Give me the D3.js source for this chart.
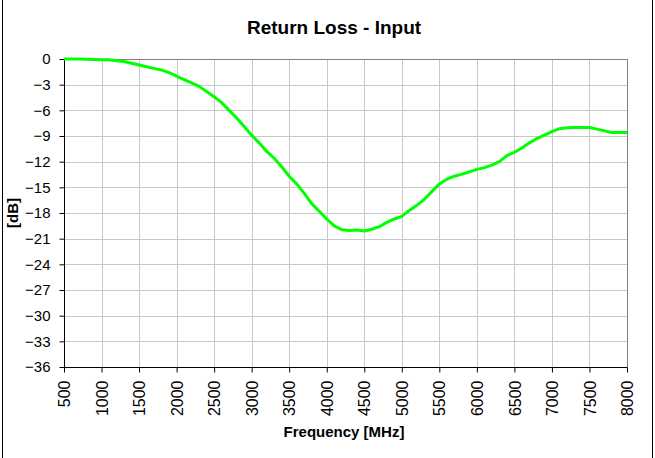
<!DOCTYPE html>
<html><head><meta charset="utf-8">
<script src="https://cdn.jsdelivr.net/npm/d3@7"></script>
<style>body{margin:0;background:#fff}svg{display:block;font-family:Arial,"Liberation Sans",sans-serif}</style>
</head><body><svg id="c" width="655" height="458"></svg>
<script>
const freq = [500,700,900,1000,1100,1200,1300,1400,1500,1600,1700,1800,1900,2000,2100,2200,2300,2400,2500,2600,2700,2800,2900,3000,3100,3200,3300,3400,3500,3600,3700,3800,3900,4000,4100,4200,4300,4400,4500,4600,4700,4800,4900,5000,5100,5200,5300,5400,5500,5600,5700,5800,5900,6000,6100,6200,6300,6400,6500,6600,6700,6800,6900,7000,7100,7200,7300,7400,7500,7600,7700,7800,7900,8000];
const returnLoss = [0,0,-0.05,-0.1,-0.1,-0.2,-0.3,-0.5,-0.7,-0.9,-1.1,-1.3,-1.6,-2.0,-2.4,-2.8,-3.2,-3.8,-4.4,-5.1,-6.0,-6.9,-7.9,-8.9,-9.8,-10.8,-11.6,-12.6,-13.7,-14.6,-15.7,-16.9,-17.8,-18.7,-19.5,-19.95,-20.05,-20.0,-20.1,-19.9,-19.6,-19.1,-18.7,-18.4,-17.7,-17.1,-16.4,-15.5,-14.6,-14.05,-13.7,-13.45,-13.2,-12.9,-12.7,-12.4,-12.0,-11.3,-10.9,-10.4,-9.8,-9.3,-8.9,-8.5,-8.15,-8.05,-8.0,-8.0,-8.0,-8.2,-8.4,-8.6,-8.6,-8.6];
const xTicks = [500,1000,1500,2000,2500,3000,3500,4000,4500,5000,5500,6000,6500,7000,7500,8000];
const yTicks = [0,-3,-6,-9,-12,-15,-18,-21,-24,-27,-30,-33,-36];
const title = "Return Loss - Input";
const xLabel = "Frequency [MHz]";
const yLabel = "[dB]";

const svg = d3.select("#c");
const L = 64, R = 627, T = 59, B = 367;
const x = d3.scaleLinear().domain([500,8000]).range([L,R]);
const y = d3.scaleLinear().domain([-36,0]).range([B,T]);
const FF = "Arial, Liberation Sans, sans-serif";

// outer frame
svg.append("rect").attr("x",2.5).attr("y",-1).attr("width",650).attr("height",461)
  .attr("fill","none").attr("stroke","#000").attr("stroke-width",1);

// grid
svg.append("g").selectAll("line").data(xTicks.slice(1)).join("line")
  .attr("x1",d=>Math.round(x(d))+0.5).attr("x2",d=>Math.round(x(d))+0.5)
  .attr("y1",T).attr("y2",B).attr("stroke","#c8c8c8").attr("stroke-width",1);
svg.append("g").selectAll("line").data(yTicks.slice(0,-1)).join("line")
  .attr("y1",d=>Math.round(y(d))+0.5).attr("y2",d=>Math.round(y(d))+0.5)
  .attr("x1",L).attr("x2",R).attr("stroke","#c8c8c8").attr("stroke-width",1);
// top/right border
svg.append("path").attr("d",`M${L},${T+0.5}H${R+0.5}V${B}`).attr("fill","none").attr("stroke","#808080");

// axes
const gx = svg.append("g").attr("transform",`translate(0,${B+0.5})`)
  .call(d3.axisBottom(x).tickValues(xTicks).tickSize(5).tickFormat(d3.format("d")));
gx.select(".domain").attr("d",`M${L},0H${R+0.5}`).attr("stroke","#000");
gx.selectAll("text").attr("transform","rotate(-90)").attr("text-anchor","end")
  .attr("x",-13).attr("y",0).attr("dy","0.35em").attr("font-size",16).attr("fill","#000").attr("font-family",FF);
const gy = svg.append("g").attr("transform",`translate(${L+0.5},0)`)
  .call(d3.axisLeft(y).tickValues(yTicks).tickSize(5).tickFormat(d3.format("d")));
gy.select(".domain").attr("d",`M0,${T}V${B+0.5}`).attr("stroke","#000");
gy.selectAll("text").attr("x",-14).attr("font-size",15).attr("fill","#000").attr("font-family",FF);

// line
svg.append("path").datum(freq.map((f,i)=>[f,returnLoss[i]]))
  .attr("d",d3.line().x(d=>x(d[0])).y(d=>y(d[1])))
  .attr("fill","none").attr("stroke","#00ff00").attr("stroke-width",3).attr("stroke-linejoin","round");

// titles
svg.append("text").attr("x",334).attr("y",34).attr("text-anchor","middle")
  .attr("font-size",19).attr("font-weight","bold").text(title);
svg.append("text").attr("x",344).attr("y",437).attr("text-anchor","middle")
  .attr("font-size",15).attr("font-weight","bold").text(xLabel);
svg.append("text").attr("transform","translate(18,213) rotate(-90)").attr("text-anchor","middle")
  .attr("font-size",15).attr("font-weight","bold").text(yLabel);
</script></body></html>
